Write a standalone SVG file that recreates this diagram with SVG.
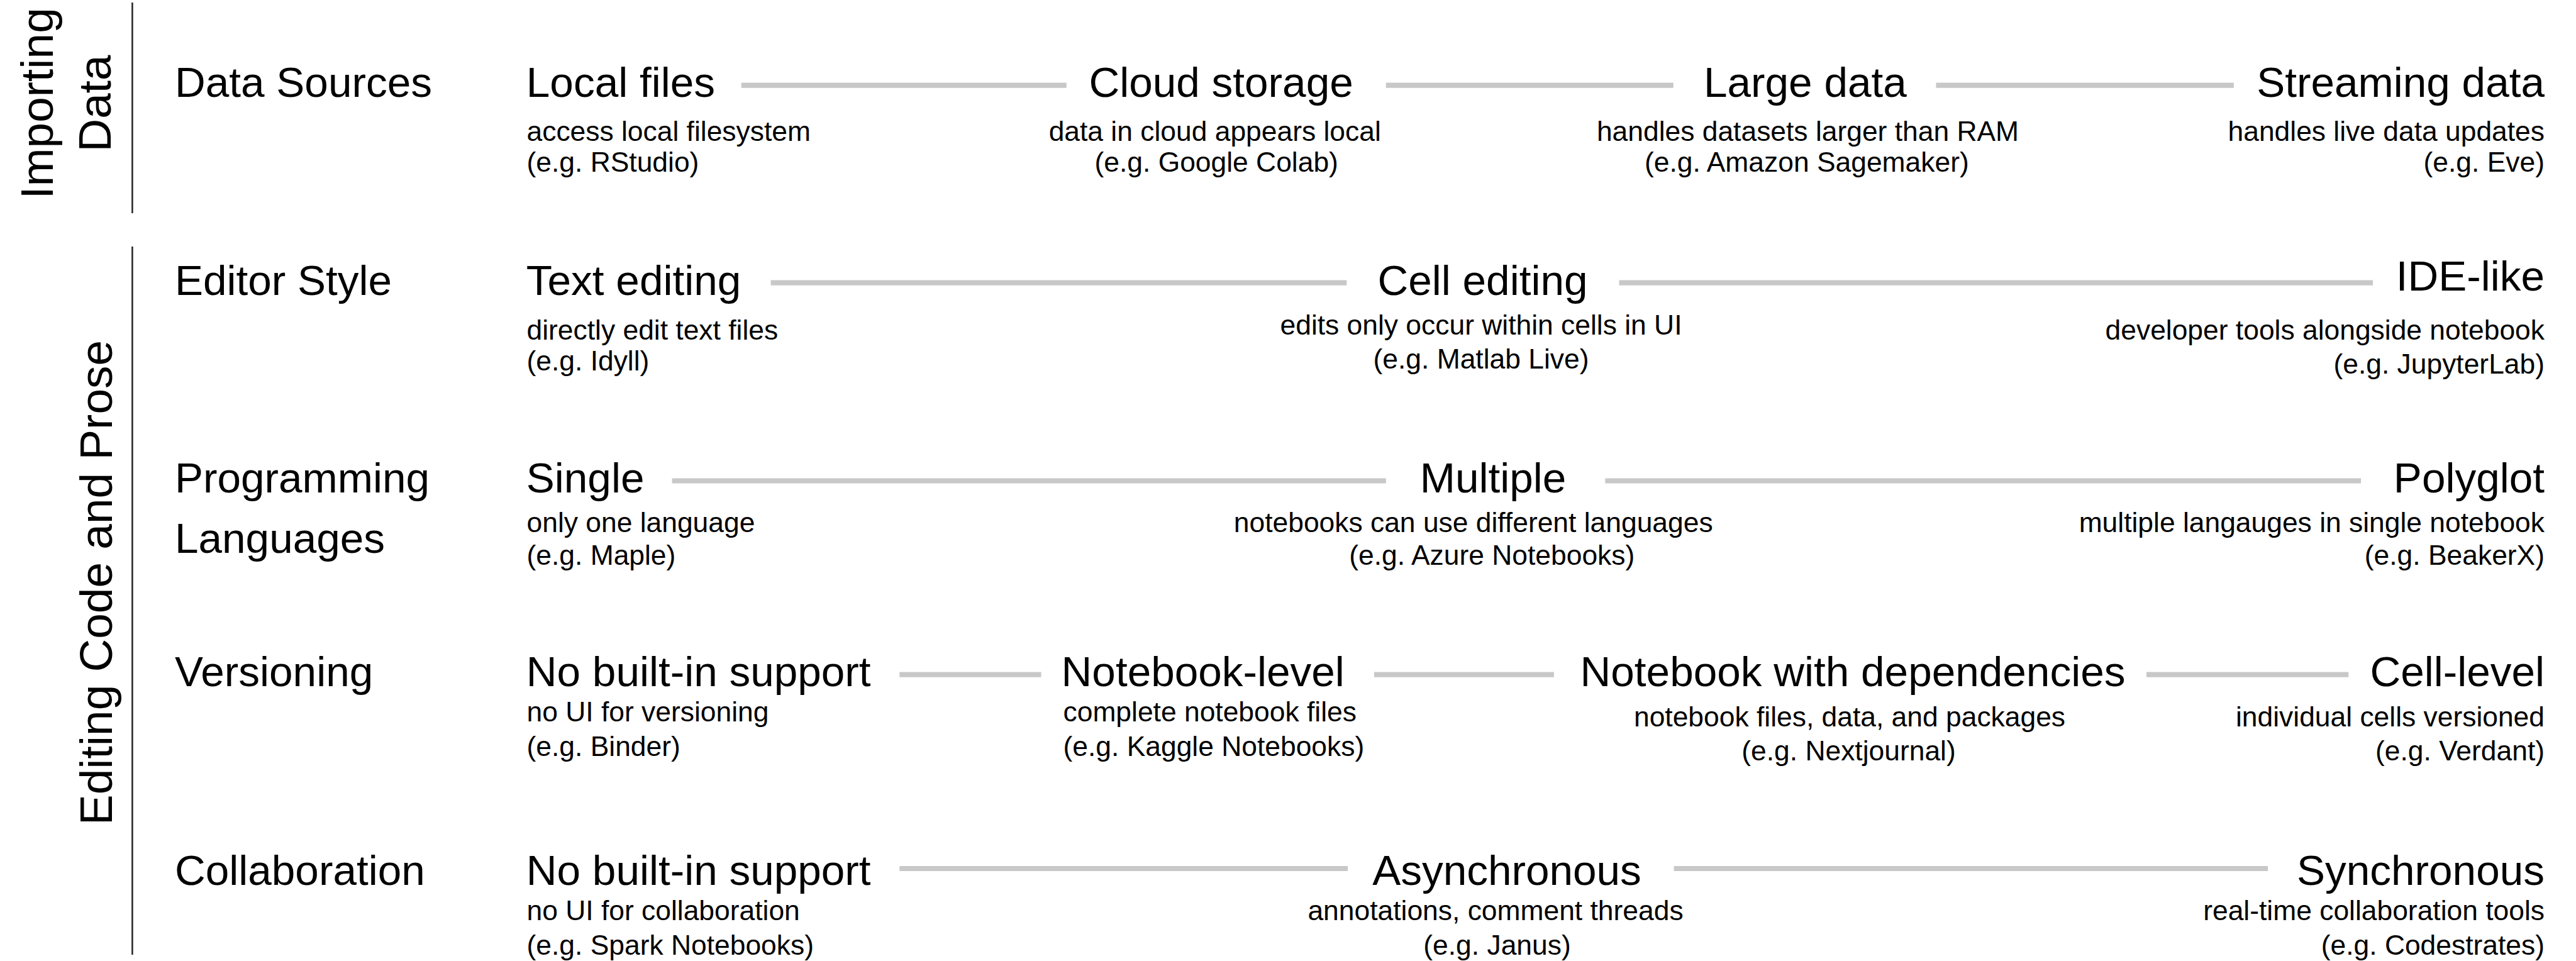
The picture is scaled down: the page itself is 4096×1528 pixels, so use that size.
<svg xmlns="http://www.w3.org/2000/svg" width="4096" height="1528" viewBox="0 0 4096 1528">
<style>
text{font-family:"Liberation Sans",Arial,Helvetica,sans-serif;fill:#000}
.cat{font-size:73px}
.dim{font-size:67.5px}
.main{font-size:67.5px}
.desc{font-size:44.4px}
.m{text-anchor:middle}
.e{text-anchor:end}
.conn line{stroke:#c8c8c8;stroke-width:8.2}
.axis{stroke:#222;stroke-width:2.5}
</style>
<rect width="4096" height="1528" fill="#fff"/>
<g id="categories">
<line class="axis" x1="210.4" y1="4" x2="210.4" y2="339"/>
<line class="axis" x1="210.4" y1="392" x2="210.4" y2="1518"/>
<text class="cat m" transform="translate(84,164.4) rotate(-90)">Importing</text>
<text class="cat m" transform="translate(176,164.4) rotate(-90)">Data</text>
<text class="cat m" transform="translate(178.4,926.4) rotate(-90)">Editing Code and Prose</text>
</g>
<g id="dimensions">
<text class="dim" x="278" y="153.7">Data Sources</text>
<text class="dim" x="278" y="468.5">Editor Style</text>
<text class="dim" x="278" y="783.4">Programming</text>
<text class="dim" x="278" y="878.7">Languages</text>
<text class="dim" x="278" y="1090.8">Versioning</text>
<text class="dim" x="278" y="1407.3">Collaboration</text>
</g>
<g class="conn" id="connectors">
<line x1="1178.7" y1="135.6" x2="1695.8" y2="135.6"/>
<line x1="2203.8" y1="135.6" x2="2660.8" y2="135.6"/>
<line x1="3078.4" y1="135.6" x2="3551.9" y2="135.6"/>
<line x1="1225.6" y1="449.6" x2="2141.3" y2="449.6"/>
<line x1="2574.5" y1="449.6" x2="3773" y2="449.6"/>
<line x1="1068.6" y1="764.5" x2="2203.8" y2="764.5"/>
<line x1="2552.3" y1="764.5" x2="3754.1" y2="764.5"/>
<line x1="1430.3" y1="1072.7" x2="1655.5" y2="1072.7"/>
<line x1="2184.9" y1="1072.7" x2="2470.9" y2="1072.7"/>
<line x1="3413" y1="1072.7" x2="3734.3" y2="1072.7"/>
<line x1="1430.3" y1="1381" x2="2143" y2="1381"/>
<line x1="2661.6" y1="1381" x2="3606.1" y2="1381"/>
</g>
<g id="local-files">
<text class="main" x="836.8" y="153.7">Local files</text>
<text class="desc" x="837.5" y="224.4">access local filesystem</text>
<text class="desc" x="837.5" y="272.9">(e.g. RStudio)</text>
</g>
<g id="cloud-storage">
<text class="main m" x="1941.6" y="153.7">Cloud storage</text>
<text class="desc m" x="1931.7" y="224.4">data in cloud appears local</text>
<text class="desc m" x="1934.2" y="272.9">(e.g. Google Colab)</text>
</g>
<g id="large-data">
<text class="main m" x="2870.4" y="153.7">Large data</text>
<text class="desc m" x="2874.5" y="224.4">handles datasets larger than RAM</text>
<text class="desc m" x="2872.9" y="272.9">(e.g. Amazon Sagemaker)</text>
</g>
<g id="streaming-data">
<text class="main e" x="4046" y="153.7">Streaming data</text>
<text class="desc e" x="4046" y="224.4">handles live data updates</text>
<text class="desc e" x="4046" y="272.9">(e.g. Eve)</text>
</g>
<g id="text-editing">
<text class="main" x="836.8" y="468.5">Text editing</text>
<text class="desc" x="837.5" y="540">directly edit text files</text>
<text class="desc" x="837.5" y="589.4">(e.g. Idyll)</text>
</g>
<g id="cell-editing">
<text class="main m" x="2357.5" y="468.5">Cell editing</text>
<text class="desc m" x="2355" y="531.8">edits only occur within cells in UI</text>
<text class="desc m" x="2355" y="586">(e.g. Matlab Live)</text>
</g>
<g id="ide-like">
<text class="main e" x="4046" y="462">IDE-like</text>
<text class="desc e" x="4046" y="540">developer tools alongside notebook</text>
<text class="desc e" x="4046" y="594.3">(e.g. JupyterLab)</text>
</g>
<g id="single">
<text class="main" x="836.8" y="782.5">Single</text>
<text class="desc" x="837.5" y="845.8">only one language</text>
<text class="desc" x="837.5" y="897.6">(e.g. Maple)</text>
</g>
<g id="multiple">
<text class="main m" x="2374" y="782.5">Multiple</text>
<text class="desc m" x="2342.7" y="845.8">notebooks can use different languages</text>
<text class="desc m" x="2372.3" y="897.6">(e.g. Azure Notebooks)</text>
</g>
<g id="polyglot">
<text class="main e" x="4046" y="782.5">Polyglot</text>
<text class="desc e" x="4046" y="845.8">multiple langauges in single notebook</text>
<text class="desc e" x="4046" y="897.6">(e.g. BeakerX)</text>
</g>
<g id="no-versioning">
<text class="main" x="836.8" y="1090.8">No built-in support</text>
<text class="desc" x="837.5" y="1146.7">no UI for versioning</text>
<text class="desc" x="837.5" y="1201.8">(e.g. Binder)</text>
</g>
<g id="notebook-level">
<text class="main" x="1687.6" y="1090.8">Notebook-level</text>
<text class="desc" x="1690.5" y="1146.7">complete notebook files</text>
<text class="desc" x="1690.5" y="1201.8">(e.g. Kaggle Notebooks)</text>
</g>
<g id="notebook-with-dependencies">
<text class="main m" x="2946" y="1090.8">Notebook with dependencies</text>
<text class="desc m" x="2941" y="1154.9">notebook files, data, and packages</text>
<text class="desc m" x="2939.5" y="1209.2">(e.g. Nextjournal)</text>
</g>
<g id="cell-level">
<text class="main e" x="4046" y="1090.8">Cell-level</text>
<text class="desc e" x="4046" y="1154.9">individual cells versioned</text>
<text class="desc e" x="4046" y="1209.2">(e.g. Verdant)</text>
</g>
<g id="no-collaboration">
<text class="main" x="836.8" y="1407.3">No built-in support</text>
<text class="desc" x="837.5" y="1463.2">no UI for collaboration</text>
<text class="desc" x="837.5" y="1518.2">(e.g. Spark Notebooks)</text>
</g>
<g id="asynchronous">
<text class="main m" x="2396" y="1407.3">Asynchronous</text>
<text class="desc m" x="2378" y="1463.2">annotations, comment threads</text>
<text class="desc m" x="2380.5" y="1518.2">(e.g. Janus)</text>
</g>
<g id="synchronous">
<text class="main e" x="4046" y="1407.3">Synchronous</text>
<text class="desc e" x="4046" y="1463.2">real-time collaboration tools</text>
<text class="desc e" x="4046" y="1518.2">(e.g. Codestrates)</text>
</g>
</svg>
